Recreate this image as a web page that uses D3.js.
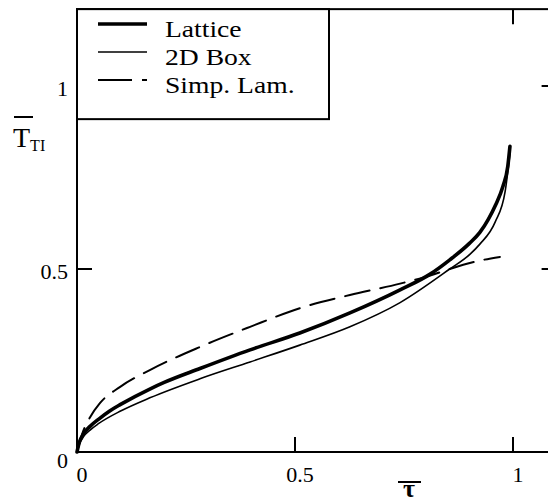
<!DOCTYPE html>
<html><head><meta charset="utf-8">
<script src="https://cdn.jsdelivr.net/npm/d3@7"></script>
<style>body{margin:0;background:#fff}svg{display:block}text{font-family:"Liberation Serif","Times New Roman","DejaVu Serif",serif}</style>
</head><body>
<script>
const seriesNames = ["Lattice", "2D Box", "Simp. Lam."];
const latticeTau = [0,0.005,0.015,0.03,0.05,0.075,0.1,0.167,0.2,0.282,0.397,0.511,0.626,0.741,0.81,0.855,0.9,0.924,0.943,0.96,0.977,0.988,0.993];
const latticeT   = [0,0.025,0.05,0.07,0.09,0.112,0.13,0.172,0.19,0.228,0.279,0.325,0.38,0.443,0.486,0.525,0.57,0.6,0.635,0.675,0.726,0.78,0.835];
const boxTau = [0,0.005,0.015,0.03,0.05,0.1,0.167,0.282,0.397,0.511,0.626,0.741,0.855,0.901,0.924,0.959,0.982,0.993];
const boxT   = [0,0.02,0.042,0.06,0.078,0.112,0.148,0.2,0.246,0.292,0.342,0.408,0.5,0.54,0.568,0.628,0.712,0.815];
const lamTau = [0,0.012,0.03,0.053,0.099,0.167,0.282,0.397,0.511,0.626,0.741,0.81,0.855,0.924,0.97];
const lamT   = [0,0.05,0.095,0.134,0.178,0.224,0.287,0.342,0.393,0.429,0.46,0.482,0.5,0.523,0.533];
const xTicks = [0, 0.5, 1];
const yTicks = [0, 0.5, 1];
const xTickLabels = ["0", "0.5", "1"];
const yTickLabels = ["0", "0.5", "1"];

const W = 548, H = 502;
const svg = d3.select("body").append("svg").attr("width", W).attr("height", H);
const x = d3.scaleLinear().domain([0, 1]).range([77, 513]);
const y = d3.scaleLinear().domain([0, 1]).range([452, 86]);
const xMax = 1.1, yMax = 1.21;

const series = [
  {tau: latticeTau, T: latticeT, w: 3.6, dash: null},
  {tau: boxTau, T: boxT, w: 1.6, dash: null},
  {tau: lamTau, T: lamT, w: 2, dash: "25,11"}
];
const line = d3.line().x(d => x(d[0])).y(d => y(d[1])).curve(d3.curveMonotoneX);
series.forEach(s => {
  svg.append("path").datum(s.tau.map((t, i) => [t, s.T[i]]))
    .attr("d", line).attr("fill", "none").attr("stroke", "#000")
    .attr("stroke-width", s.w).attr("stroke-linecap", "round")
    .attr("stroke-dasharray", s.dash);
});

// frame
svg.append("rect").attr("x", x(0)).attr("y", y(yMax))
  .attr("width", x(xMax) - x(0)).attr("height", y(0) - y(yMax))
  .attr("fill", "none").attr("stroke", "#000").attr("stroke-width", 2);

// ticks (inward)
const tl = 15;
xTicks.filter(v => v > 0).forEach(v => {
  svg.append("line").attr("x1", x(v)).attr("x2", x(v)).attr("y1", y(0)).attr("y2", y(0) - tl).attr("stroke", "#000").attr("stroke-width", 2);
  svg.append("line").attr("x1", x(v)).attr("x2", x(v)).attr("y1", y(yMax)).attr("y2", y(yMax) + tl).attr("stroke", "#000").attr("stroke-width", 2);
});
yTicks.filter(v => v > 0).forEach(v => {
  svg.append("line").attr("x1", x(0)).attr("x2", x(0) + tl).attr("y1", y(v)).attr("y2", y(v)).attr("stroke", "#000").attr("stroke-width", 2);
  svg.append("line").attr("x1", x(xMax)).attr("x2", x(xMax) - tl).attr("y1", y(v)).attr("y2", y(v)).attr("stroke", "#000").attr("stroke-width", 2);
});

// tick labels
xTicks.forEach((v, i) => {
  svg.append("text").attr("x", x(v) + 5).attr("y", y(0) + 30).attr("text-anchor", "middle")
    .attr("font-size", 22).text(xTickLabels[i]);
});
yTicks.forEach((v, i) => {
  svg.append("text").attr("x", x(0) - 9).attr("y", y(v) + (v === 0 ? 16 : 10)).attr("text-anchor", "end")
    .attr("font-size", 22).text(yTickLabels[i]);
});

// legend box
const lg = svg.append("g");
lg.append("rect").attr("x", x(0)).attr("y", y(yMax)).attr("width", 252).attr("height", 110)
  .attr("fill", "#fff").attr("stroke", "#000").attr("stroke-width", 2);
const legW = [3.6, 1.6, 2], legDash = [null, null, "34,10"];
seriesNames.forEach((n, i) => {
  const ly = 24 + i * 28;
  lg.append("line").attr("x1", 98).attr("x2", 147).attr("y1", ly).attr("y2", ly)
    .attr("stroke", "#000").attr("stroke-width", legW[i]).attr("stroke-dasharray", legDash[i]);
  lg.append("text").attr("transform", `translate(165,${ly + 13}) scale(1.15,1)`)
    .attr("font-size", 24).text(n);
});

// axis titles
svg.append("line").attr("x1", 14).attr("x2", 33).attr("y1", 117).attr("y2", 117).attr("stroke", "#000").attr("stroke-width", 2);
const yt = svg.append("text").attr("x", 13).attr("y", 147).attr("font-size", 28);
yt.append("tspan").text("T");
yt.append("tspan").attr("font-size", 16).attr("dy", 4).text("TI");
svg.append("line").attr("x1", 398).attr("x2", 421).attr("y1", 482).attr("y2", 482).attr("stroke", "#000").attr("stroke-width", 2);
svg.append("text").attr("x", 409).attr("y", 497).attr("text-anchor", "middle")
  .attr("font-size", 26).attr("font-weight", "bold").text("τ");
</script>
</body></html>
